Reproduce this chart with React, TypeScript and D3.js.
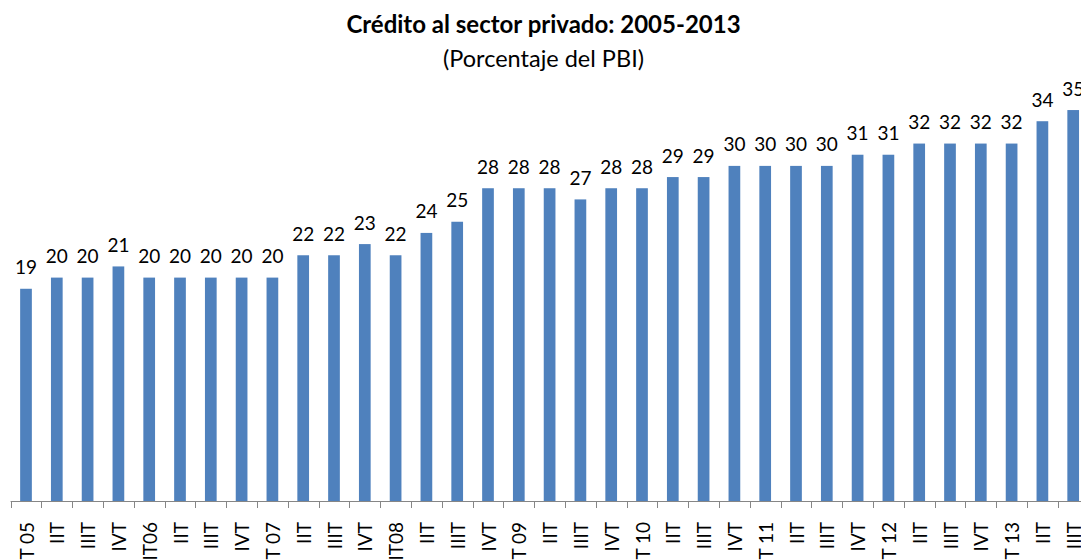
import React from "react";
import * as d3 from "d3";

const categories: string[] = [
  "IT 05", "IIT", "IIIT", "IVT",
  "IT06", "IIT", "IIIT", "IVT",
  "IT 07", "IIT", "IIIT", "IVT",
  "IT08", "IIT", "IIIT", "IVT",
  "IT 09", "IIT", "IIIT", "IVT",
  "IT 10", "IIT", "IIIT", "IVT",
  "IT 11", "IIT", "IIIT", "IVT",
  "IT 12", "IIT", "IIIT", "IVT",
  "IT 13", "IIT", "IIIT",
];

const values: number[] = [
  19, 20, 20, 21,
  20, 20, 20, 20,
  20, 22, 22, 23,
  22, 24, 25, 28,
  28, 28, 27, 28,
  28, 29, 29, 30,
  30, 30, 30, 31,
  31, 32, 32, 32,
  32, 34, 35,
];

const title = "Crédito al sector privado: 2005-2013";
const subtitle = "(Porcentaje del PBI)";

const W = 1081;
const H = 560;
const FONT = "Lato, Carlito, Calibri, 'Open Sans', sans-serif";

export default function App() {
  const idx = categories.map((_, i) => i);
  const step = 30.8;
  const x0 = 10.6;
  const x = d3
    .scaleBand<number>()
    .domain(idx)
    .range([x0, x0 + step * categories.length])
    .paddingInner(0.62)
    .paddingOuter(0.31);
  const baseY = 501;
  const y = d3.scaleLinear().domain([0, 36]).range([baseY, baseY - 36 * 11.17]);

  const bw = x.bandwidth();
  const st = x.step();
  const boundaries = idx.map((i) => (x(i) as number) + bw / 2 - st / 2);
  boundaries.push((x(idx.length - 1) as number) + bw / 2 + st / 2);

  return (
    <svg
      width={W}
      height={H}
      style={{ position: "fixed", left: 0, top: 0, background: "#fff" }}
      fontFamily={FONT}
    >
      <text x={543.5} y={33} textAnchor="middle" fontSize={24} fontWeight="bold" fill="#000">
        {title}
      </text>
      <text x={543.5} y={67} textAnchor="middle" fontSize={23.5} fill="#000">
        {subtitle}
      </text>

      {values.map((v, i) => (
        <rect
          key={"b" + i}
          x={x(i)}
          y={y(v)}
          width={bw}
          height={baseY - y(v)}
          fill="#4F81BD"
        />
      ))}

      {values.map((v, i) => (
        <text
          key={"l" + i}
          x={(x(i) as number) + bw / 2}
          y={y(v) - 14.5}
          textAnchor="middle"
          fontSize={19}
          fill="#000"
        >
          {v}
        </text>
      ))}

      <line x1={boundaries[0]} x2={W + 20} y1={baseY + 0.5} y2={baseY + 0.5} stroke="#868686" strokeWidth={1} />
      {boundaries.map((b, i) => (
        <line
          key={"t" + i}
          x1={Math.round(b) + 0.5}
          x2={Math.round(b) + 0.5}
          y1={baseY}
          y2={baseY + 7}
          stroke="#868686"
          strokeWidth={1}
        />
      ))}

      {categories.map((c, i) => (
        <text
          key={"c" + i}
          transform={`translate(${(x(i) as number) + bw / 2},522) rotate(-90)`}
          textAnchor="end"
          dominantBaseline="central"
          fontSize={19}
          fill="#000"
        >
          {c}
        </text>
      ))}
    </svg>
  );
}
